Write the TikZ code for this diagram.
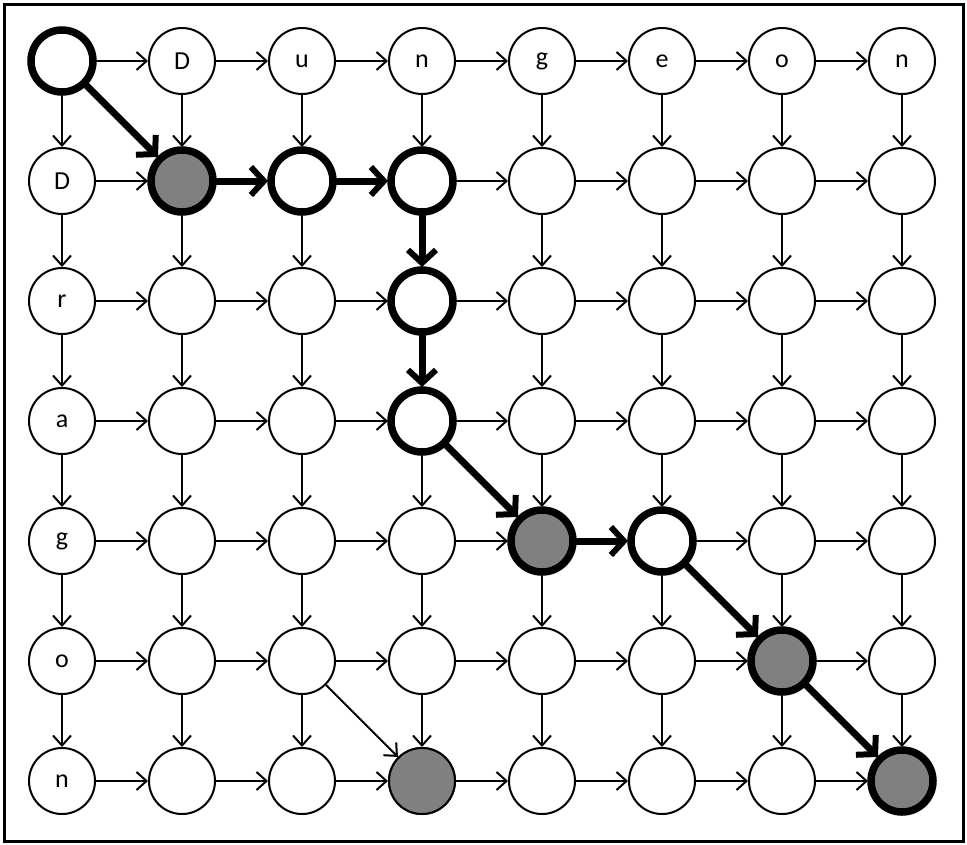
\documentclass[tikz,border=0pt]{standalone}
\usepackage{fontspec}
\setmainfont{Carlito}
\usetikzlibrary{arrows.meta}
\begin{document}
\begin{tikzpicture}[x=1pt,y=-1pt,
  cell/.style={circle,draw=black,line width=2pt,minimum size=66pt,inner sep=0pt,fill=white,font=\fontsize{26}{26}\selectfont},
  hot/.style={line width=7.5pt,minimum size=62pt},
  grayfill/.style={fill=black!50},
  thinarr/.style={line width=2pt,-{Straight Barb[length=10pt,width=18pt,line width=2pt]}},
  thickarr/.style={line width=7pt,-{Straight Barb[length=13pt,width=28pt,line width=6pt]}}]
\useasboundingbox (0,0) rectangle (967,844);
\draw[line width=3pt] (4,4) rectangle (963,841);
\def\toplbl{{"","D","u","n","g","e","o","n"}}
\def\leftlbl{{"","D","r","a","g","o","n"}}
% nodes
\foreach \r in {0,...,6}{
  \foreach \c in {0,...,7}{
    \pgfmathsetmacro{\xx}{62+120*\c}
    \pgfmathsetmacro{\yy}{61+120*\r}
    \ifnum\r=0
      \pgfmathsetmacro{\lbl}{\toplbl[\c]}
    \else
      \ifnum\c=0
        \pgfmathsetmacro{\lbl}{\leftlbl[\r]}
      \else
        \def\lbl{}
      \fi
    \fi
    \node[cell] (n\r\c) at (\xx,\yy) {\lbl};
  }
}
% highlighted / gray nodes
\foreach \r/\c in {0/0,1/2,1/3,2/3,3/3,4/5}{
  \node[cell,hot] at (n\r\c) {};
}
\foreach \r/\c in {1/1,4/4,5/6,6/7}{
  \node[cell,hot,grayfill] at (n\r\c) {};
}
\node[cell,grayfill] at (n63) {};
% thin horizontal arrows
\foreach \r in {0,...,6}{
  \foreach \c [evaluate=\c as \d using int(\c+1)] in {0,...,6}{
    \def\skip{0}
    \ifnum\r=1 \ifnum\c=1 \def\skip{1}\fi \ifnum\c=2 \def\skip{1}\fi\fi
    \ifnum\r=4 \ifnum\c=4 \def\skip{1}\fi\fi
    \ifnum\skip=0 \draw[thinarr] (n\r\c) -- (n\r\d);\fi
  }
}
% thin vertical arrows
\foreach \r [evaluate=\r as \s using int(\r+1)] in {0,...,5}{
  \foreach \c in {0,...,7}{
    \def\skip{0}
    \ifnum\c=3 \ifnum\r=1 \def\skip{1}\fi \ifnum\r=2 \def\skip{1}\fi\fi
    \ifnum\skip=0 \draw[thinarr] (n\r\c) -- (n\s\c);\fi
  }
}
\draw[thinarr] (n52) -- (n63);
% thick path
\draw[thickarr] (n00) -- (n11);
\draw[thickarr] (n11) -- (n12);
\draw[thickarr] (n12) -- (n13);
\draw[thickarr] (n13) -- (n23);
\draw[thickarr] (n23) -- (n33);
\draw[thickarr] (n33) -- (n44);
\draw[thickarr] (n44) -- (n45);
\draw[thickarr] (n45) -- (n56);
\draw[thickarr] (n56) -- (n67);
\end{tikzpicture}
\end{document}
